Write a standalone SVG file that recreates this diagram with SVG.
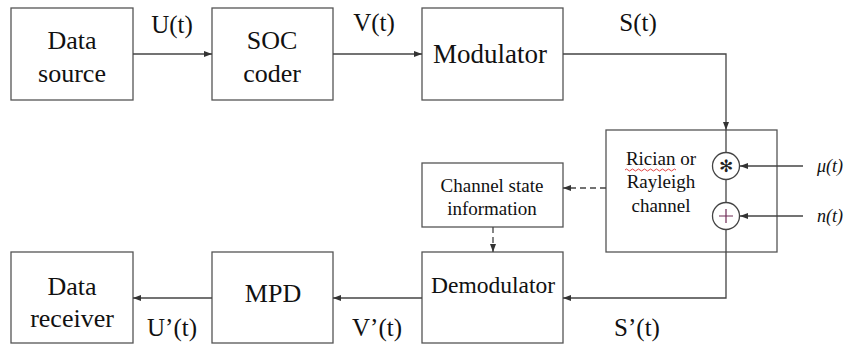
<svg xmlns="http://www.w3.org/2000/svg" width="848" height="347" viewBox="0 0 848 347">
  <defs>
    <marker id="arrow" markerWidth="8" markerHeight="6" refX="8" refY="3" orient="auto" markerUnits="userSpaceOnUse">
      <path d="M0,0 L8,3 L0,6 Z" fill="#333"/>
    </marker>
    <style>
      .box { fill: #fff; stroke: #555; stroke-width: 1.3; }
      .line { fill: none; stroke: #444; stroke-width: 1.3; }
      .dash { fill: none; stroke: #444; stroke-width: 1.3; stroke-dasharray: 6 4; }
      .t { fill: #111; text-anchor: middle; font-family: 'Liberation Serif', 'Times New Roman', serif; }
      .big { font-size: 26px; }
      .sig { font-size: 25px; }
      .small { font-size: 19px; }
      .it { font-style: italic; font-size: 18px; fill: #111; font-family: 'Liberation Serif', 'Times New Roman', serif; }
    </style>
  </defs>

  <g id="data-source">
    <rect class="box" x="11" y="8" width="122" height="92"/>
    <text class="t big" x="72" y="49">Data</text>
    <text class="t big" x="72" y="82">source</text>
  </g>

  <g id="soc-coder">
    <rect class="box" x="212" y="8" width="121" height="92"/>
    <text class="t big" x="272" y="49">SOC</text>
    <text class="t big" x="272" y="82">coder</text>
  </g>

  <g id="modulator">
    <rect class="box" x="422" y="8" width="141" height="92"/>
    <text class="t" font-size="27" x="490" y="63">Modulator</text>
  </g>

  <g id="channel">
    <rect class="box" x="606" y="130" width="171" height="122"/>
    <line class="line" x1="726" y1="130" x2="726" y2="152.5"/>
    <line class="line" x1="726" y1="179.5" x2="726" y2="202.5"/>
    <line class="line" x1="726" y1="229.5" x2="726" y2="252"/>
    <!-- multiplicative (convolution) node -->
    <circle cx="726" cy="166" r="13.5" fill="#fff" stroke="#444" stroke-width="1.3"/>
    <text x="726" y="172" font-family="DejaVu Sans, sans-serif" font-size="17" text-anchor="middle" fill="#222">✻</text>
    <!-- additive node -->
    <circle cx="726" cy="216" r="13.5" fill="#fff" stroke="#444" stroke-width="1.3"/>
    <path d="M719,216 H733 M726,209 V223" stroke="#6e2a55" stroke-width="1.2" fill="none"/>
    <text class="t small" x="661" y="165">Rician or</text>
    <text class="t small" x="661" y="188">Rayleigh</text>
    <text class="t small" x="661" y="212">channel</text>
    <path d="M625,170 q1.5,-2 3,0 t3,0 t3,0 t3,0 t3,0 t3,0 t3,0 t3,0 t3,0 t3,0 t3,0 t3,0 t3,0 t3,0 t3,0 t3,0 t3,0" fill="none" stroke="#e03030" stroke-width="0.9"/>
  </g>

  <g id="channel-state-information">
    <rect class="box" x="422" y="163" width="141" height="64"/>
    <text class="t small" x="492" y="192">Channel state</text>
    <text class="t small" x="492" y="215">information</text>
  </g>

  <g id="demodulator">
    <rect class="box" x="422" y="252" width="141" height="91"/>
    <text class="t" font-size="23.5" x="493" y="293">Demodulator</text>
  </g>

  <g id="mpd">
    <rect class="box" x="212" y="252" width="121" height="91"/>
    <text class="t big" x="273" y="302">MPD</text>
  </g>

  <g id="data-receiver">
    <rect class="box" x="11" y="252" width="122" height="91"/>
    <text class="t big" x="72" y="295">Data</text>
    <text class="t big" x="72" y="327">receiver</text>
  </g>

  <!-- connectors, drawn above the boxes -->
  <g id="connectors">
    <line class="line" x1="133" y1="54" x2="212" y2="54" marker-end="url(#arrow)"/>
    <line class="line" x1="333" y1="54" x2="422" y2="54" marker-end="url(#arrow)"/>
    <polyline class="line" points="563,54 726,54 726,130" marker-end="url(#arrow)"/>
    <polyline class="line" points="726,252 726,298 563,298" marker-end="url(#arrow)"/>
    <line class="line" x1="422" y1="298" x2="333" y2="298" marker-end="url(#arrow)"/>
    <line class="line" x1="212" y1="298" x2="133" y2="298" marker-end="url(#arrow)"/>
    <line class="dash" x1="606" y1="188" x2="563" y2="188" marker-end="url(#arrow)"/>
    <line class="dash" x1="493" y1="227" x2="493" y2="252" marker-end="url(#arrow)"/>
    <line class="line" x1="803" y1="166" x2="740" y2="166" marker-end="url(#arrow)"/>
    <line class="line" x1="803" y1="216" x2="740" y2="216" marker-end="url(#arrow)"/>
  </g>

  <!-- signal labels -->
  <g id="signal-labels">
    <text class="t sig" x="172" y="33">U(t)</text>
    <text class="t sig" x="374" y="31">V(t)</text>
    <text class="t sig" x="638" y="31">S(t)</text>
    <text class="t sig" x="172" y="336">U’(t)</text>
    <text class="t sig" x="377" y="336">V’(t)</text>
    <text class="t sig" x="637" y="336">S’(t)</text>
    <text class="it" x="817" y="172">μ(t)</text>
    <text class="it" x="817" y="222">n(t)</text>
  </g>
</svg>
